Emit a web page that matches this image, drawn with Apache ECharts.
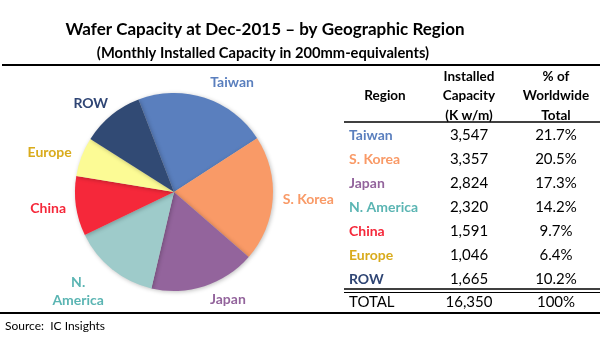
<!DOCTYPE html>
<html><head><meta charset="utf-8">
<script src="https://cdn.jsdelivr.net/npm/echarts@6/dist/echarts.min.js"></script>
<style>html,body{margin:0;padding:0;background:#fff}#c{width:600px;height:350px}</style>
</head><body><div id="c"></div>
<script>
var regions = ['Taiwan','S. Korea','Japan','N. America','China','Europe','ROW'];
var pieLabels = ['Taiwan','S. Korea','Japan','{c|N.}\n{c|America}','China','Europe','ROW'];
var capacity = [3547,3357,2824,2320,1591,1046,1665];
var capacityText = ['3,547','3,357','2,824','2,320','1,591','1,046','1,665'];
var shareText = ['21.7%','20.5%','17.3%','14.2%','9.7%','6.4%','10.2%'];
var totalRow = ['TOTAL','16,350','100%'];
var headerRegion = 'Region';
var headerCap = 'Installed\nCapacity\n(K w/m)';
var headerPct = '% of\nWorldwide\nTotal';
var sliceColors = ['#5a7fbe','#f99a67','#93649c','#9ecbca','#f5283a','#fcfb95','#314a74'];
var labelColors = ['#5a7fbe','#f99a67','#93649c','#5bb5b3','#f5283a','#d9ab1c','#2f4574'];

var FONT = 'Lato, "Open Sans", sans-serif';
var chart = echarts.init(document.getElementById('c'), null, {renderer:'canvas'});

var graphics = [];
graphics.push({type:'line', shape:{x1:2,y1:65,x2:600,y2:65}, style:{stroke:'#000',lineWidth:2}});
graphics.push({type:'line', shape:{x1:0,y1:313,x2:600,y2:313}, style:{stroke:'#000',lineWidth:2}});
graphics.push({type:'line', shape:{x1:344,y1:122,x2:600,y2:122}, style:{stroke:'#000',lineWidth:1.3}});
graphics.push({type:'line', shape:{x1:344,y1:289,x2:600,y2:289}, style:{stroke:'#000',lineWidth:1.3}});
graphics.push({type:'line', shape:{x1:344,y1:292.5,x2:600,y2:292.5}, style:{stroke:'#000',lineWidth:1}});
function txt(t,x,y,align,opt){
  var s = {text:t, x:x, y:y, align:align||'center', verticalAlign:'middle', font: (opt&&opt.font)||('14px '+FONT), fill:(opt&&opt.fill)||'#000', lineHeight:(opt&&opt.lh)||19.5};
  return {type:'text', style:s};
}
graphics.push(txt(headerRegion,385,96,'center',{font:'bold 13.5px '+FONT}));
graphics.push(txt(headerCap,469,96,'center',{font:'bold 13.5px '+FONT}));
graphics.push(txt(headerPct,556,96,'center',{font:'bold 13.5px '+FONT}));
for (var i=0;i<regions.length;i++){
  var y = 135 + i*24;
  graphics.push(txt(regions[i],349,y,'left',{font:'bold 14px '+FONT, fill:labelColors[i]}));
  graphics.push(txt(capacityText[i],469,y,'center',{font:'15px '+FONT}));
  graphics.push(txt(shareText[i],556,y,'center',{font:'15px '+FONT}));
}
graphics.push(txt(totalRow[0],349,302,'left',{font:'15px '+FONT}));
graphics.push(txt(totalRow[1],469,302,'center',{font:'15px '+FONT}));
graphics.push(txt(totalRow[2],556,302,'center',{font:'15px '+FONT}));
graphics.push(txt('Source:  IC Insights',5,326,'left',{font:'12px '+FONT}));

var labelShift = [[-1,-11],[0,0],[-1,9],[0,18],[0,2],[0,-3],[5,-8]];

chart.setOption({
  animation:false,
  title:[{text:'Wafer Capacity at Dec-2015 \u2013 by Geographic Region', left:260, top:16, textAlign:'center',
          textStyle:{fontFamily:FONT, fontWeight:'bold', fontSize:17, color:'#000'}},
         {text:'(Monthly Installed Capacity in 200mm-equivalents)', left:258, top:41, textAlign:'center',
          textStyle:{fontFamily:FONT, fontWeight:'bold', fontSize:14.7, color:'#000'}}],
  color: sliceColors,
  series:[{
    type:'pie',
    center:[174,192],
    radius:[0,99],
    startAngle:111,
    clockwise:true,
    avoidLabelOverlap:false,
    itemStyle:{shadowBlur:4, shadowColor:'rgba(0,0,0,0.25)', shadowOffsetX:1, shadowOffsetY:1},
    label:{show:true, position:'outside', fontFamily:FONT, fontWeight:'bold', fontSize:14, lineHeight:18,
           formatter:function(p){return pieLabels[p.dataIndex];},
           rich:{c:{align:'center', fontFamily:FONT, fontWeight:'bold', fontSize:14, lineHeight:18, color:labelColors[3]}}},
    labelLine:{show:false, length:5, length2:0},
    labelLayout:function(p){
      var s = labelShift[p.dataIndex];
      return {dx:s[0], dy:s[1]};
    },
    data: regions.map(function(r,i){return {name:r, value:capacity[i], label:{color:labelColors[i]}};})
  }],
  graphic: graphics
});
</script></body></html>
